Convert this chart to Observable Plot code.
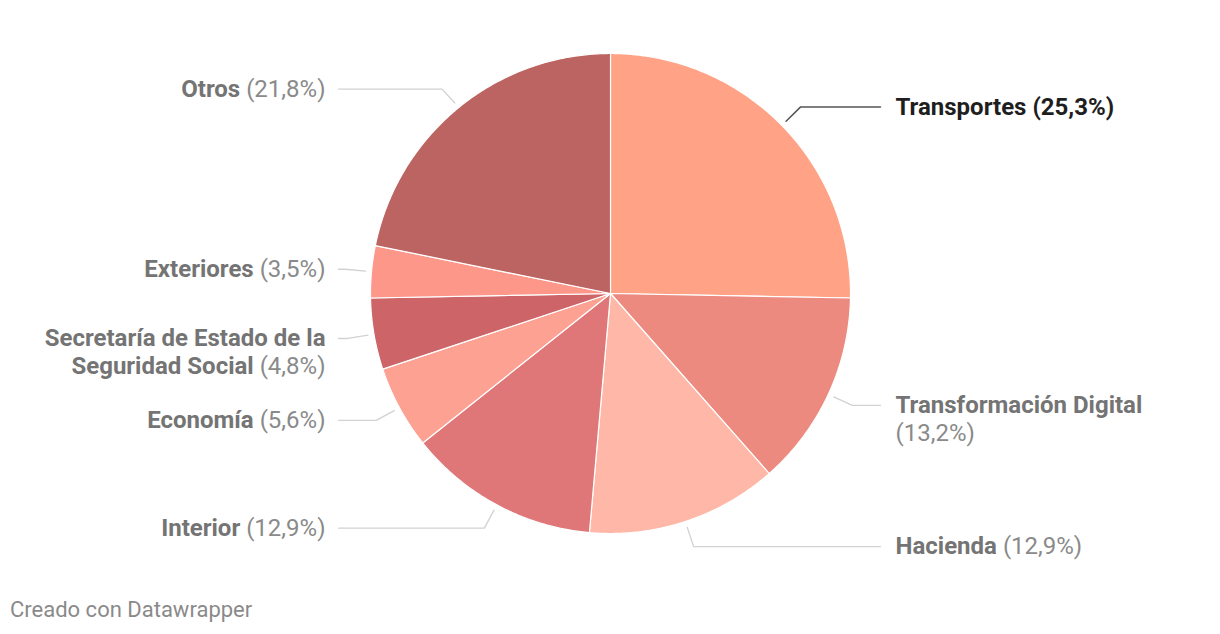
<!DOCTYPE html>
<html><head><meta charset="utf-8">
<script src="https://cdn.jsdelivr.net/npm/d3@7"></script>
<script src="https://cdn.jsdelivr.net/npm/@observablehq/plot@0.6"></script>
<style>
body{margin:0;background:#fff;font-family:Roboto,sans-serif;}
#wrap{position:relative;width:1220px;height:634px;overflow:hidden;}
#caption{position:absolute;left:10px;top:597px;font-size:22px;color:#8a8a8a;font-family:Roboto,sans-serif;}
</style></head><body>
<div id="wrap"><div id="chart"></div><div id="caption">Creado con Datawrapper</div></div>
<script>
const categories = ["Transportes","Transformación Digital","Hacienda","Interior","Economía","Secretaría de Estado de la Seguridad Social","Exteriores","Otros"];
const shares = [25.3,13.2,12.9,12.9,5.6,4.8,3.5,21.8];
const shareLabels = ["(25,3%)","(13,2%)","(12,9%)","(12,9%)","(5,6%)","(4,8%)","(3,5%)","(21,8%)"];
const colors = ["#ffa285","#ec8a80","#ffb7a7","#df7677","#fda193","#cc6468","#fd978a","#bc6461"];
const highlighted = "Transportes";

const W = 1220, H = 590, cx = 610, cy = 293, R = 240;
const FS = 24, LH = 28, MAXW = 295;

const data = categories.map((c, i) => ({name: c, share: shares[i], label: shareLabels[i]}));
const arcs = d3.pie().sort(null).value(d => d.share)(data);

// slice polygons
const slicePts = [];
arcs.forEach(a => {
  slicePts.push({name: a.data.name, x: 0, y: 0});
  const n = Math.max(2, Math.ceil((a.endAngle - a.startAngle) / (Math.PI / 360)));
  for (let k = 0; k <= n; k++) {
    const t = a.startAngle + (a.endAngle - a.startAngle) * k / n;
    slicePts.push({name: a.data.name, x: R * Math.sin(t), y: R * Math.cos(t)});
  }
});

// measurement
const ctx = document.createElement("canvas").getContext("2d");
function tw(s, bold) { ctx.font = (bold ? "bold " : "") + FS + "px Roboto"; return ctx.measureText(s).width; }

const leaderPts = [];
const rowsRight = [], rowsLeft = [];
arcs.forEach(a => {
  const m = (a.startAngle + a.endAngle) / 2;
  const right = m < Math.PI;
  const s = Math.sin(m), c = Math.cos(m);
  const p0 = {x: R * 1.025 * s, y: R * 1.025 * c};
  const p1 = {x: R * 1.11 * s, y: R * 1.11 * c - (c > 0.5 && !right ? 2 : 0)};
  const p2 = {x: right ? 270 : -272, y: p1.y};
  const hl = a.data.name === highlighted;
  [p0, p1, p2].forEach(p => leaderPts.push({name: a.data.name, hl, ...p}));
  // wrap label
  const tokens = a.data.name.split(" ").map(w => ({t: w, b: true})).concat([{t: a.data.label, b: hl}]);
  const lines = [];
  let cur = [], curW = 0;
  const sp = tw(" ", false);
  tokens.forEach(tok => {
    const w = tw(tok.t, tok.b);
    const nw = cur.length ? curW + sp + w : w;
    if (cur.length && nw > MAXW) { lines.push(cur); cur = [tok]; curW = w; }
    else { cur.push(tok); curW = nw; }
  });
  if (cur.length) lines.push(cur);
  lines.forEach((ln, li) => {
    const bold = ln.filter(t => t.b && t.t !== a.data.label).map(t => t.t).join(" ");
    const reg = ln.filter(t => t.t === a.data.label).map(t => t.t).join(" ");
    const row = {x: right ? 285 : -285, y: p1.y - li * LH, bold, reg, hl, full: [bold, reg].filter(Boolean).join(" ")};
    (right ? rowsRight : rowsLeft).push(row);
  });
});

const chart = Plot.plot({
  width: W, height: H, margin: 0,
  x: {domain: [-cx, W - cx], axis: null},
  y: {domain: [cy - H, cy], axis: null},
  color: {domain: categories, range: colors},
  style: {fontFamily: "Roboto, sans-serif", fontSize: FS + "px", background: "white"},
  marks: [
    Plot.line(slicePts, {x: "x", y: "y", z: "name", fill: "name", stroke: "white", strokeWidth: 1.2, curve: "linear-closed"}),
    Plot.line(leaderPts.filter(d => !d.hl), {x: "x", y: "y", z: "name", stroke: "#d2d2d2", strokeWidth: 1.3}),
    Plot.line(leaderPts.filter(d => d.hl), {x: "x", y: "y", z: "name", stroke: "#555", strokeWidth: 1.5}),
    Plot.text(rowsRight, {x: "x", y: "y", text: "full", textAnchor: "start", lineAnchor: "middle", fontSize: FS}),
    Plot.text(rowsLeft, {x: "x", y: "y", text: "full", textAnchor: "end", lineAnchor: "middle", fontSize: FS})
  ]
});
document.getElementById("chart").appendChild(chart);

// mixed-weight labels
const groups = chart.querySelectorAll('g[aria-label="text"]');
[rowsRight, rowsLeft].forEach((rows, gi) => {
  const texts = groups[gi].querySelectorAll("text");
  texts.forEach((el, i) => {
    const r = rows[i];
    el.textContent = "";
    const ns = "http://www.w3.org/2000/svg";
    if (r.bold) {
      const t1 = document.createElementNS(ns, "tspan");
      t1.setAttribute("font-weight", "bold");
      t1.setAttribute("fill", r.hl ? "#1e1e1e" : "#747474");
      t1.textContent = r.bold;
      el.appendChild(t1);
    }
    if (r.reg) {
      const t2 = document.createElementNS(ns, "tspan");
      t2.setAttribute("font-weight", r.hl ? "bold" : "normal");
      t2.setAttribute("fill", r.hl ? "#1e1e1e" : "#8a8a8a");
      t2.textContent = (r.bold ? " " : "") + r.reg;
      el.appendChild(t2);
    }
  });
});
</script>
</body></html>
